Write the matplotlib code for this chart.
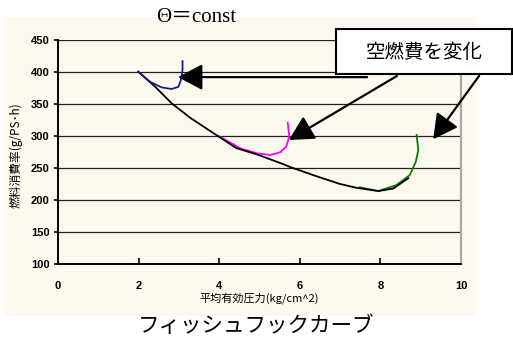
import matplotlib
matplotlib.use("Agg")
import matplotlib.pyplot as plt
from matplotlib.patches import Rectangle

plt.rcParams['font.family'] = ['Noto Sans CJK JP', 'DejaVu Sans']

# ---- data ----
black_x = [1.99, 2.41, 2.82, 3.28, 3.94, 4.43, 4.93, 5.59, 5.76, 6.42, 7.0, 7.41, 7.95, 8.32, 8.69]
black_y = [400.5, 377, 351, 328.5, 301, 281, 271.4, 256, 251.5, 237, 225, 219, 214, 218, 234]

blue_x = [1.99, 2.28, 2.57, 2.82, 2.99, 3.05, 3.09, 3.09]
blue_y = [400.5, 384.9, 376, 373.4, 377, 387.5, 403, 417]

magenta_x = [3.98, 4.27, 4.52, 4.93, 5.26, 5.51, 5.66, 5.74, 5.70]
magenta_y = [300, 290, 280.8, 273, 270.3, 274.5, 283.3, 299, 320.8]

green_x = [7.49, 7.95, 8.40, 8.73, 8.88, 8.94, 8.90]
green_y = [219.8, 214, 223.4, 239, 260, 278, 301.6]

x_ticks = [0, 2, 4, 6, 8, 10]
y_ticks = [100, 150, 200, 250, 300, 350, 400, 450]

title = "Θ＝const"
xlabel = "平均有効圧力(kg/cm^2)"
ylabel = "燃料消費率(g/PS･h)"
caption = "フィッシュフックカーブ"
box_text = "空燃費を変化"

# arrows: (tail, tip) in data coordinates
arrows = [((7.67, 392), (2.98, 392)),
          ((8.41, 393.8), (5.73, 293.8)),
          ((10.45, 394), (9.31, 295))]

W, H = 513, 342
fig = plt.figure(figsize=(W / 100, H / 100), dpi=100)
fig.patch.set_facecolor('white')

# cream panel
fig.patches.append(Rectangle((4 / W, 1 - 316 / H), 473 / W, 299 / H,
                             transform=fig.transFigure, facecolor='#FDF9EE',
                             edgecolor='none', zorder=-5))

ax = fig.add_axes([58 / W, 1 - 264 / H, 403 / W, 224 / H])
ax.set_zorder(1)
ax.set_facecolor('none')
ax.set_xlim(0, 10)
ax.set_ylim(100, 450)
ax.set_xticks(x_ticks)
ax.set_yticks(y_ticks)
for y in y_ticks[1:]:
    ax.axhline(y, color='#222222', lw=0.9, zorder=1)

ax.plot(black_x, black_y, color='black', lw=1.3, zorder=3)
ax.plot(blue_x, blue_y, color='#1a1a8c', lw=1.3, zorder=4)
ax.plot(magenta_x, magenta_y, color='#FF00FF', lw=1.3, zorder=2)
ax.plot(green_x, green_y, color='#008000', lw=1.3, zorder=2)

ax.spines['top'].set_visible(False)
ax.spines['right'].set_color('#A8A8A8')
ax.spines['right'].set_linewidth(1.6)
ax.spines['left'].set_linewidth(1.4)
ax.spines['bottom'].set_linewidth(1.4)

ax.tick_params(axis='x', direction='in', length=4, width=1.2, pad=12,
               labelsize=8)
ax.tick_params(axis='y', direction='out', length=3, width=1.2, pad=3,
               labelsize=8)
for lab in ax.get_xticklabels() + ax.get_yticklabels():
    lab.set_family(['Liberation Sans'])
    lab.set_fontweight('bold')

fig.text(259 / W, 1 - 298 / H, xlabel, fontsize=8, ha='center', va='center')
fig.text(16 / W, 1 - 155 / H, ylabel, fontsize=8.5, ha='center', va='center',
         rotation=90)
fig.text(196 / W, 1 - 17 / H, title, fontsize=15, ha='center', va='center',
         family=['Liberation Serif', 'Noto Sans CJK JP'])
fig.text(256 / W, 1 - 326 / H, caption, fontsize=15.5, ha='center', va='center')

# annotation box
fig.patches.append(Rectangle((336 / W, 1 - 74 / H), 176 / W, 45 / H,
                             transform=fig.transFigure, facecolor='white',
                             edgecolor='black', lw=1.5, zorder=5))
fig.text(424 / W, 1 - 52 / H, box_text, fontsize=14, ha='center', va='center',
         zorder=6)

for tail, tip in arrows:
    ax.annotate('', xy=tip, xytext=tail, annotation_clip=False,
                arrowprops=dict(arrowstyle='-|>,head_length=1.5,head_width=0.8',
                                mutation_scale=10, color='black', lw=1.6,
                                shrinkA=0, shrinkB=0))

fig.savefig('out.png', dpi=100, facecolor='white')
